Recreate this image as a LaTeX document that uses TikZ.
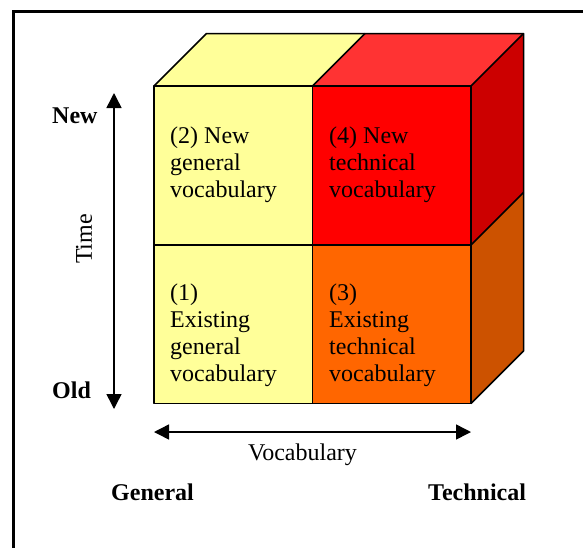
\documentclass[tikz,border=0pt]{standalone}
\usepackage{fontspec}
\setmainfont{Liberation Serif}
\usetikzlibrary{arrows.meta}

\definecolor{paleyellow}{HTML}{FFFF99}
\definecolor{redfront}{HTML}{FF0000}
\definecolor{redtop}{HTML}{FF3333}
\definecolor{redside}{HTML}{CC0000}
\definecolor{orangefront}{HTML}{FF6600}
\definecolor{orangeside}{HTML}{CC5200}

\begin{document}
\begin{tikzpicture}[x=1pt,y=-1pt,
  cell/.style={anchor=north west, align=left, inner sep=0pt, font=\fontsize{24}{27}\selectfont},
  axislabel/.style={inner sep=0pt, font=\fontsize{24}{27}\selectfont},
  endlabel/.style={inner sep=0pt, anchor=base west, font=\fontsize{24}{27}\selectfont\bfseries},
  edge/.style={line width=1.5pt, line join=round},
  bothways/.style={line width=1.5pt, {Triangle[length=15pt,width=15pt]}-{Triangle[length=15pt,width=15pt]}}]
\useasboundingbox (0,0) rectangle (583,547);

% Frame (runs off the right and bottom)
\draw[line width=3pt] (13,570) -- (13,11) -- (600,11);

% Top faces
\fill[paleyellow] (154,86) -- (206.5,33.5) -- (365,33.5) -- (312.5,86) -- cycle;
\fill[redtop] (312.5,86) -- (365,33.5) -- (523.5,33.5) -- (471,86) -- cycle;

% Right side faces
\fill[redside] (471,86) -- (523.5,33.5) -- (523.5,192.5) -- (471,245) -- cycle;
\fill[orangeside] (471,245) -- (523.5,192.5) -- (523.5,351) -- (471,403.5) -- cycle;

% Front faces
\fill[paleyellow] (154,86) rectangle (312.5,403.5);
\fill[redfront] (312.5,86) rectangle (471,245);
\fill[orangefront] (312.5,245) rectangle (471,403.5);

% Edges
\draw[edge] (154,86) rectangle (471,403.5);
\draw[edge] (312.5,86) -- (312.5,403.5);
\draw[edge] (154,245) -- (471,245);
\draw[edge] (154,86) -- (206.5,33.5) -- (523.5,33.5) -- (523.5,351) -- (471,403.5);
\draw[edge] (312.5,86) -- (365,33.5);
\draw[edge] (471,86) -- (523.5,33.5);
\draw[edge] (471,245) -- (523.5,192.5);

% Cell labels
\node[cell] (newgen) at (170,126.5) {(2) New\\general\\vocabulary};
\node[cell] (newtech) at (329,126.5) {(4) New\\technical\\vocabulary};
\node[cell] (oldgen) at (170,284) {(1)\\Existing\\general\\vocabulary};
\node[cell] (oldtech) at (329,284) {(3)\\Existing\\technical\\vocabulary};

% Time axis
\coordinate (timetop) at (114,93);
\coordinate (timebot) at (114,409);
\draw[bothways] (timebot) -- (timetop);
\node[axislabel, rotate=90] (time) at (84,239) {Time};
\node[endlabel] (new) at (52,123) {New};
\node[endlabel] (old) at (52,398) {Old};

% Vocabulary axis
\coordinate (vocleft) at (154,432);
\coordinate (vocright) at (471,432);
\draw[bothways] (vocleft) -- (vocright);
\node[axislabel, anchor=base] (vocab) at (302.5,460) {Vocabulary};
\node[endlabel] (general) at (111,500) {General};
\node[endlabel] (technical) at (428,500) {Technical};
\end{tikzpicture}
\end{document}
